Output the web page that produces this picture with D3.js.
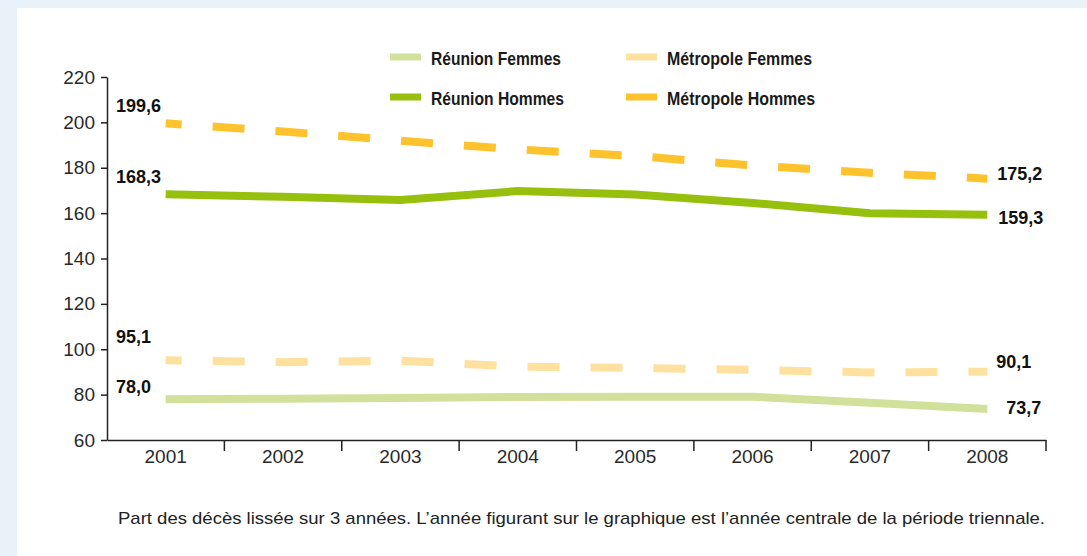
<!DOCTYPE html>
<html>
<head>
<meta charset="utf-8">
<script src="https://cdn.jsdelivr.net/npm/d3@7"></script>
<style>
  html, body { margin: 0; padding: 0; background: #e9f1f9; }
  svg { display: block; }
</style>
</head>
<body>
<div id="chart"></div>
<script>
var years = ["2001", "2002", "2003", "2004", "2005", "2006", "2007", "2008"];
var yTicks = [60, 80, 100, 120, 140, 160, 180, 200, 220];

var reunionFemmes   = [78.0, 78.2, 78.5, 79.0, 79.1, 79.1, 76.4, 73.7];
var reunionHommes   = [168.3, 167.2, 165.8, 169.7, 168.2, 164.5, 159.9, 159.3];
var metropoleFemmes = [95.1, 94.3, 95.0, 92.3, 91.8, 90.9, 89.8, 90.1];
var metropoleHommes = [199.6, 196.0, 191.9, 188.1, 185.2, 181.0, 177.8, 175.2];

var seriesNames = ["Réunion Femmes", "Réunion Hommes", "Métropole Femmes", "Métropole Hommes"];
var caption = "Part des décès lissée sur 3 années. L’année figurant sur le graphique est l’année centrale de la période triennale.";

var series = [
  { name: seriesNames[0], values: reunionFemmes,   color: "#d1e19b", dash: null },
  { name: seriesNames[1], values: reunionHommes,   color: "#97bf0d", dash: null },
  { name: seriesNames[2], values: metropoleFemmes, color: "#fee19e", dash: "32,31" },
  { name: seriesNames[3], values: metropoleHommes, color: "#fdc22c", dash: "32,31" }
];

var width = 1087, height = 556;
var svg = d3.select("#chart").append("svg")
    .attr("width", width)
    .attr("height", height);

// white panel
svg.append("rect")
    .attr("x", 17).attr("y", 8)
    .attr("width", width - 17).attr("height", height - 8)
    .attr("fill", "#ffffff");

var x = d3.scaleBand().domain(years).range([107, 1046]).padding(0);
var y = d3.scaleLinear().domain([60, 220]).range([440, 77]);
var cx = function(d) { return x(d) + x.bandwidth() / 2; };

var axisFont = "'Liberation Sans', Arial, sans-serif";

// y axis
var yAxis = svg.append("g")
    .attr("transform", "translate(107,0)")
    .call(d3.axisLeft(y).tickValues(yTicks).tickSize(6).tickPadding(6).tickSizeOuter(0));
yAxis.select(".domain").attr("stroke", "#222").attr("stroke-width", 1.5);
yAxis.selectAll(".tick line").attr("stroke", "#222").attr("stroke-width", 1.5);
yAxis.selectAll("text")
    .attr("font-family", axisFont)
    .attr("font-size", 19)
    .attr("fill", "#2a2a2a");

// x axis
var xAxis = svg.append("g")
    .attr("transform", "translate(0,440)")
    .call(d3.axisBottom(x).tickSize(0).tickPadding(10).tickSizeOuter(0));
xAxis.select(".domain").attr("stroke", "#222").attr("stroke-width", 1.5);
xAxis.selectAll("text")
    .attr("font-family", axisFont)
    .attr("font-size", 19)
    .attr("fill", "#2a2a2a");
xAxis.selectAll(".sep")
    .data(years)
    .enter().append("line")
    .attr("class", "sep")
    .attr("x1", function(d) { return x(d) + x.bandwidth(); })
    .attr("x2", function(d) { return x(d) + x.bandwidth(); })
    .attr("y1", 0).attr("y2", 11)
    .attr("stroke", "#222").attr("stroke-width", 1.5);

// lines
var line = d3.line()
    .x(function(d, i) { return cx(years[i]); })
    .y(function(d) { return y(d); });

series.forEach(function(s) {
  svg.append("path")
      .datum(s.values)
      .attr("d", line)
      .attr("fill", "none")
      .attr("stroke", s.color)
      .attr("stroke-width", 8)
      .attr("stroke-dasharray", s.dash)
      .attr("stroke-dashoffset", s.dash ? 16 : null);
});

// end labels
var labelFont = "'Liberation Sans', Arial, sans-serif";
var leftDy = [-6, -11, -17, -11];
var rightDx = [19, 11, 9, 10];
var rightDy = [5, 9, -4, 1];
var fmt = function(v) { return v.toFixed(1).replace(".", ","); };

series.forEach(function(s, i) {
  var v0 = s.values[0], v1 = s.values[s.values.length - 1];
  svg.append("text")
      .attr("x", 116)
      .attr("y", y(v0) + leftDy[i])
      .attr("font-family", labelFont)
      .attr("font-weight", "bold")
      .attr("font-size", 18)
      .attr("fill", "#111")
      .text(fmt(v0));
  svg.append("text")
      .attr("x", cx(years[years.length - 1]) + rightDx[i])
      .attr("y", y(v1) + rightDy[i])
      .attr("font-family", labelFont)
      .attr("font-weight", "bold")
      .attr("font-size", 18)
      .attr("fill", "#111")
      .text(fmt(v1));
});

// legend (condensed look via textLength)
var legendPos = [[390, 57], [390, 97], [626, 57], [626, 97]];
var legendW = [130, 133, 145, 148];
series.forEach(function(s, i) {
  var g = svg.append("g").attr("transform", "translate(" + legendPos[i][0] + "," + legendPos[i][1] + ")");
  g.append("rect")
      .attr("x", 0).attr("y", -3.5)
      .attr("width", 31).attr("height", 7)
      .attr("fill", s.color);
  g.append("text")
      .attr("x", 41).attr("y", 8)
      .attr("font-family", labelFont)
      .attr("font-weight", "bold")
      .attr("font-size", 18)
      .attr("textLength", legendW[i])
      .attr("lengthAdjust", "spacingAndGlyphs")
      .attr("fill", "#1a1a1a")
      .text(s.name);
});

// caption
svg.append("text")
    .attr("x", 118).attr("y", 524)
    .attr("font-family", labelFont)
    .attr("font-size", 17)
    .attr("textLength", 927)
    .attr("lengthAdjust", "spacingAndGlyphs")
    .attr("fill", "#222")
    .text(caption);
</script>
</body>
</html>
